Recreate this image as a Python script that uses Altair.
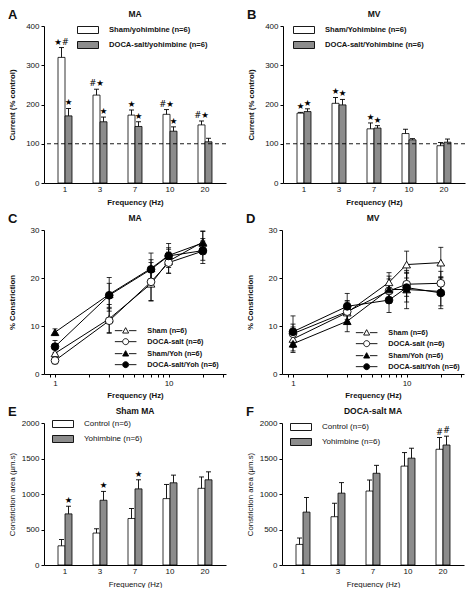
import altair as alt
import pandas as pd

FONT = "Liberation Sans"
STAR_FONT = "DejaVu Sans"
GRAY = "#8c8c8c"

freqs = ["1", "3", "7", "10", "20"]

# ---------------- Panel A : MA, current (% control)
a_groups = ["Sham/yohimbine (n=6)", "DOCA-salt/yohimbine (n=6)"]
a_sham_mean = [320, 224, 173, 175, 148]
a_sham_sem = [25, 15, 13, 12, 10]
a_sham_sig = ["★#", "#★", "★", "#★", "#★"]
a_doca_mean = [171, 156, 144, 132, 105]
a_doca_sem = [19, 12, 12, 11, 9]
a_doca_sig = ["★", "★", "★", "★", ""]

# ---------------- Panel B : MV, current (% control)
b_groups = ["Sham/Yohimbine (n=6)", "DOCA-salt/Yohimbine (n=6)"]
b_sham_mean = [178, 203, 138, 126, 95]
b_sham_sem = [2, 15, 15, 11, 8]
b_sham_sig = ["★", "★", "★", "", ""]
b_doca_mean = [182, 199, 140, 110, 104]
b_doca_sem = [7, 14, 6, 3, 8]
b_doca_sig = ["★", "★", "★", "", ""]

control_level = [100]

# ---------------- Panels C, D : % constriction
hz = [1, 3, 7, 10, 20]
line_series = ["Sham (n=6)", "DOCA-salt (n=6)", "Sham/Yoh (n=6)", "DOCA-salt/Yoh (n=6)"]

c_means = [
    [4.3, 11.5, 18.8, 23.5, 27.5],
    [2.8, 11.1, 19.2, 23.2, 25.6],
    [8.7, 16.6, 22.0, 24.7, 27.3],
    [5.7, 16.4, 21.8, 24.6, 25.7],
]
c_sems = [
    [0.8, 3.0, 3.5, 2.5, 2.3],
    [0.7, 2.5, 4.0, 2.2, 2.6],
    [0.7, 3.5, 3.2, 2.5, 2.4],
    [1.3, 2.5, 2.0, 1.7, 2.0],
]
d_means = [
    [7.3, 12.8, 19.1, 22.8, 23.2],
    [8.4, 13.0, 17.3, 18.7, 18.9],
    [6.3, 11.0, 17.6, 17.6, 17.2],
    [8.8, 14.1, 15.4, 18.0, 16.9],
]
d_sems = [
    [2.5, 2.5, 2.0, 2.8, 3.2],
    [2.0, 2.0, 2.5, 2.5, 2.5],
    [1.8, 2.2, 2.8, 4.0, 3.0],
    [3.3, 2.7, 2.6, 3.0, 3.3],
]

# ---------------- Panels E, F : constriction area
e_groups = ["Control (n=6)", "Yohimbine (n=6)"]
e_ctrl_mean = [270, 450, 655, 935, 1080]
e_ctrl_sem = [90, 60, 140, 200, 160]
e_ctrl_sig = ["", "", "", "", ""]
e_yoh_mean = [720, 912, 1072, 1158, 1200]
e_yoh_sem = [108, 125, 128, 108, 112]
e_yoh_sig = ["★", "★", "★", "", ""]

f_ctrl_mean = [290, 680, 1042, 1393, 1630]
f_ctrl_sem = [90, 190, 155, 190, 165]
f_ctrl_sig = ["", "", "", "", "#"]
f_yoh_mean = [745, 1012, 1292, 1505, 1690]
f_yoh_sem = [205, 148, 112, 140, 125]
f_yoh_sig = ["", "", "", "", "#"]

RECT = "M-3,-1H3V1H-3Z"
LINE = "M-3.6,0H-1.1M1.1,0H3.6"
TRI = "M0,-1L1,0.8H-1Z"
CIRC = "M1,0A1,1 0 1,1 -1,0A1,1 0 1,1 1,0Z"

W = 182


def bar_df(groups, m1, s1, g1, m2, s2, g2):
    rows = []
    for i, f in enumerate(freqs):
        rows.append(dict(freq=f, group=groups[0], mean=m1[i], upper=m1[i] + s1[i], sig=g1[i]))
        rows.append(dict(freq=f, group=groups[1], mean=m2[i], upper=m2[i] + s2[i], sig=g2[i]))
    return pd.DataFrame(rows)


def bar_panel(df, groups, ymax, ystep, ytitle, title, lx, ly, bold, h, baseline=False):
    fw = "bold" if bold else "normal"
    x = alt.X("freq:N", sort=freqs,
              scale=alt.Scale(paddingInner=0.6, paddingOuter=0.4),
              axis=alt.Axis(title="Frequency (Hz)", labelAngle=0, ticks=False,
                            titleFontWeight=fw, titlePadding=5))
    xo = alt.XOffset("group:N", sort=groups,
                     scale=alt.Scale(domain=groups, paddingInner=0, paddingOuter=0))
    yax = alt.Axis(values=list(range(0, ymax + 1, ystep)), title=ytitle, format="d",
                   titleFontWeight=fw, minExtent=24, maxExtent=24)
    ysc = alt.Scale(domain=[0, ymax])
    y = alt.Y("mean:Q", scale=ysc, axis=yax, stack=None)
    yu = alt.Y("upper:Q", scale=ysc, axis=yax)
    base = alt.Chart(df)
    bars = base.mark_bar(stroke="black", strokeWidth=0.8, opacity=1).encode(
        x=x, xOffset=xo, y=y,
        fill=alt.Fill("group:N", sort=groups,
                      scale=alt.Scale(domain=groups, range=["white", GRAY]),
                      legend=alt.Legend(title=None, orient="none", legendX=lx, legendY=ly,
                                        symbolType=RECT, symbolSize=49,
                                        symbolStrokeColor="black", symbolStrokeWidth=0.9,
                                        symbolOffset=7, labelOffset=17, padding=0,
                                        labelFont=FONT, labelFontSize=7.6 if bold else 8,
                                        labelFontWeight=fw, labelColor="#111",
                                        rowPadding=3)))
    err = base.mark_rule(color="black", strokeWidth=0.9).encode(
        x=x, xOffset=xo, y=y, y2="upper:Q")
    cap = base.mark_tick(color="black", orient="horizontal", size=5, thickness=0.9,
                         opacity=1).encode(x=x, xOffset=xo, y=yu)
    sig = base.mark_text(font=STAR_FONT, fontSize=8.5, baseline="bottom", dy=-1,
                         color="black", fill="black").encode(x=x, xOffset=xo, y=yu, text="sig:N")
    layers = [bars, err, cap, sig]
    if baseline:
        rule = alt.Chart(pd.DataFrame({"mean": control_level})).mark_rule(
            color="black", strokeWidth=0.9, strokeDash=[4, 3]).encode(y=y)
        layers.append(rule)
    return alt.layer(*layers).properties(
        width=W, height=h,
        title=alt.Title(title, fontSize=8.5, fontWeight="bold", anchor="middle", offset=4))


def line_df(means, sems):
    rows = []
    for s, m, e in zip(line_series, means, sems):
        for f, mv, ev in zip(hz, m, e):
            rows.append(dict(hz=f, series=s, mean=mv, lo=mv - ev, hi=mv + ev))
    return pd.DataFrame(rows)


def line_panel(df, title, lx, ly, h):
    x = alt.X("hz:Q", scale=alt.Scale(type="log", domain=[0.8, 32]),
              axis=alt.Axis(values=[0.9, 1, 2, 3, 4, 5, 6, 7, 8, 9, 10, 20, 30],
                            labelExpr="datum.value == 1 ? '1' : datum.value == 10 ? '10' : ''",
                            title="Frequency (Hz)", titleFontWeight="bold", titlePadding=4))
    ysc = alt.Scale(domain=[0, 30])
    yax = alt.Axis(values=[0, 10, 20, 30], title="% Constriction", minExtent=24, maxExtent=24)
    y = alt.Y("mean:Q", scale=ysc, axis=yax)
    ylo = alt.Y("lo:Q", scale=ysc, axis=yax)
    yhi = alt.Y("hi:Q", scale=ysc, axis=yax)
    base = alt.Chart(df)
    lines = base.mark_line(color="black", strokeWidth=1).encode(x=x, y=y, detail="series:N")
    err = base.mark_rule(color="black", strokeWidth=0.8).encode(x=x, y=ylo, y2="hi:Q")
    cap_lo = base.mark_tick(color="black", orient="horizontal", size=5, thickness=0.8,
                            opacity=1).encode(x=x, y=ylo)
    cap_hi = base.mark_tick(color="black", orient="horizontal", size=5, thickness=0.8,
                            opacity=1).encode(x=x, y=yhi)
    pts = base.mark_point(filled=True, size=60, stroke="black", strokeWidth=0.9,
                          opacity=1).encode(
        x=x, y=y,
        shape=alt.Shape("series:N", scale=alt.Scale(domain=line_series,
                        range=["triangle-up", "circle", "triangle-up", "circle"]), legend=None),
        fill=alt.Fill("series:N", scale=alt.Scale(domain=line_series,
                      range=["white", "white", "black", "black"]), legend=None))
    leg = dict(title=None, orient="none", legendX=lx, legendY=ly, symbolSize=36,
               symbolStrokeColor="black", symbolStrokeWidth=0.9, symbolOffset=8,
               labelOffset=18, padding=0, labelFont=FONT, labelFontSize=7.3,
               labelFontWeight="bold", labelColor="#111", rowPadding=1, symbolOpacity=1)
    key = base.transform_filter("datum.hz < 0").mark_point(
        filled=True, size=36, strokeWidth=0.9, opacity=1).encode(
        x=x, y=y,
        shape=alt.Shape("series:N", scale=alt.Scale(domain=line_series,
                        range=[LINE + TRI, LINE + CIRC, LINE + TRI, LINE + CIRC]),
                        legend=alt.Legend(**leg)),
        fill=alt.Fill("series:N", scale=alt.Scale(domain=line_series,
                      range=["white", "white", "black", "black"]),
                      legend=alt.Legend(**leg)),
        stroke=alt.Stroke("series:N", scale=alt.Scale(domain=line_series,
                          range=["black", "black", "black", "black"]),
                          legend=alt.Legend(**leg)))
    return alt.layer(lines, err, cap_lo, cap_hi, pts, key).resolve_scale(
        shape="independent", fill="independent", stroke="independent").properties(
        width=W, height=h,
        title=alt.Title(title, fontSize=8.5, fontWeight="bold", anchor="middle", offset=4))


RES = dict(fill="independent", shape="independent", stroke="independent", xOffset="independent")


def wrap(panel, letter):
    return alt.vconcat(panel, title=alt.Title(letter, anchor="start", frame="bounds",
                                              fontSize=13, fontWeight="bold", offset=-12)
                       ).resolve_scale(**RES)


pA = bar_panel(bar_df(a_groups, a_sham_mean, a_sham_sem, a_sham_sig,
                      a_doca_mean, a_doca_sem, a_doca_sig),
               a_groups, 400, 100, "Current (% control)", "MA", 33, 0, True, 157, baseline=True)
pB = bar_panel(bar_df(b_groups, b_sham_mean, b_sham_sem, b_sham_sig,
                      b_doca_mean, b_doca_sem, b_doca_sig),
               b_groups, 400, 100, "Current (% control)", "MV", 10, 0, True, 157, baseline=True)
pC = line_panel(line_df(c_means, c_sems), "MA", 70, 97, 144)
pD = line_panel(line_df(d_means, d_sems), "MV", 73, 99, 144)
pE = bar_panel(bar_df(e_groups, e_ctrl_mean, e_ctrl_sem, e_ctrl_sig,
                      e_yoh_mean, e_yoh_sem, e_yoh_sig),
               e_groups, 2000, 500, "Constriction area (µm.s)", "Sham MA", 8, -3, False, 142)
pF = bar_panel(bar_df(e_groups, f_ctrl_mean, f_ctrl_sem, f_ctrl_sig,
                      f_yoh_mean, f_yoh_sem, f_yoh_sig),
               e_groups, 2000, 500, "Constriction area (µm.s)", "DOCA-salt  MA", 8, 0, False, 142)

row1 = alt.hconcat(wrap(pA, "A"), wrap(pB, "B"), spacing=20).resolve_scale(**RES)
row2 = alt.hconcat(wrap(pC, "C"), wrap(pD, "D"), spacing=20).resolve_scale(**RES)
row3 = alt.hconcat(wrap(pE, "E"), wrap(pF, "F"), spacing=20).resolve_scale(**RES)

chart = alt.vconcat(row1, row2, row3, spacing=6).resolve_scale(**RES).properties(
    padding={"left": 0, "top": 0, "right": 0, "bottom": 0}
).configure_axis(
    labelFont=FONT, titleFont=FONT, labelFontSize=8, titleFontSize=7.8,
    labelColor="#111", titleColor="#111", domainColor="black", tickColor="black",
    grid=False, tickSize=3, labelPadding=2, titlePadding=4, domainWidth=1, tickWidth=1
).configure_view(stroke=None).configure_title(font=FONT, color="#111")

chart.save("out.html", embed_options={"renderer": "svg", "actions": False})
